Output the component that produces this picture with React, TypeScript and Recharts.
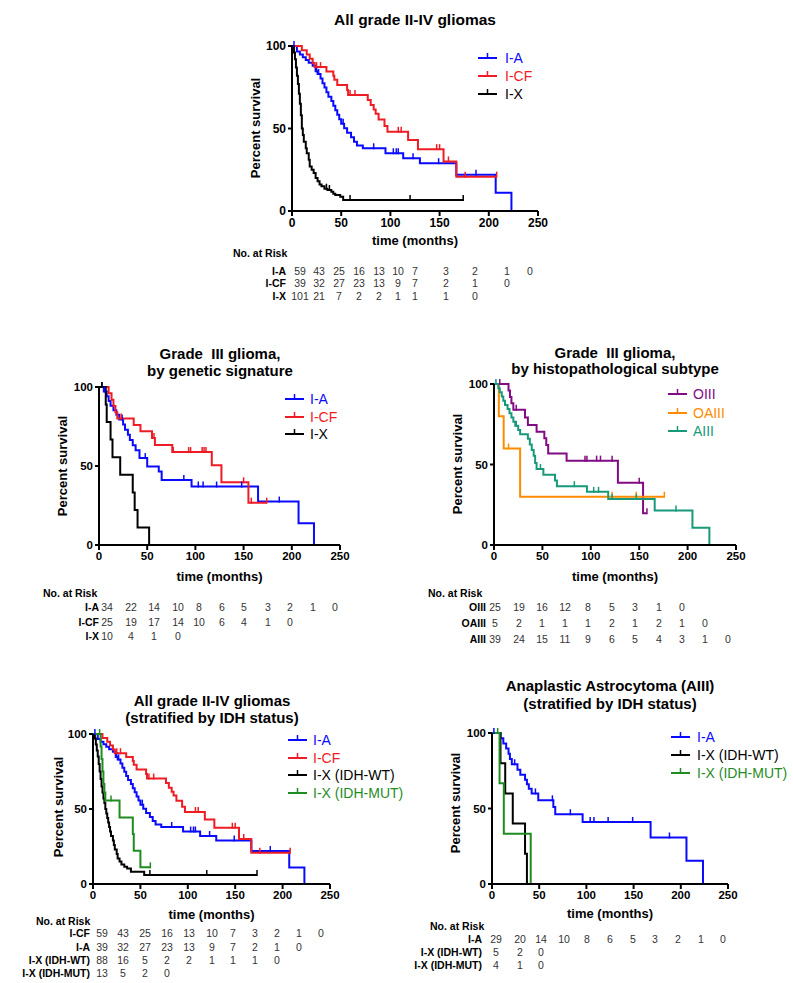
import React from 'react';
import { ComposedChart, Line, XAxis, YAxis } from 'recharts';

type Pt = [number, number];

const FONT = '"Liberation Sans", Arial, Helvetica, sans-serif';

// colours as in the figure
const BLUE = '#0a0aff';
const RED = '#ee1c24';
const BLACK = '#000000';
const GREEN = '#1f8c1f';
const TEAL = '#17997a';
const PURPLE = '#820a82';
const ORANGE = '#ff8c00';

// ---- All grade II-IV gliomas (time in months, percent survival after each drop)
const allA: Pt[] = [[0, 100], [5, 96.6], [8, 94.9], [11, 93.2], [14, 91.5], [17, 89.8], [21, 88.1], [24, 84.7], [26, 83], [29, 80.3], [31, 77.5], [33, 74.8], [35, 72], [37, 69.3], [40, 66.6], [42, 63.8], [44, 61.1], [46, 58.4], [48, 55.6], [50, 52.9], [53, 50.2], [56, 47.4], [60, 44.7], [63, 42], [66, 39.7], [72, 38], [95, 35], [113, 32], [130, 29], [167, 22], [207, 11], [223, 0]];
const allACens = [2, 25, 27, 52, 83, 103, 106, 108, 123, 149, 187];
const allCF: Pt[] = [[0, 100], [10, 97.4], [15, 94.9], [18, 92.3], [21, 89.7], [23, 87.2], [35, 84.6], [42, 82], [43, 79.5], [46, 76.4], [56, 73.3], [57, 70.3], [77, 67.3], [80, 64.2], [83, 61.5], [85, 59], [88, 55.5], [94, 51.5], [97, 48], [118, 43], [128, 37.5], [154, 30], [167, 20.8]];
const allCFCens = [25, 29, 59, 64, 108, 111, 147, 150, 159, 176, 208];
const allX: Pt[] = [[0, 100], [2, 96], [3, 92], [4, 87], [5, 82], [6, 77], [7, 71], [8, 65], [9, 58], [10, 50], [11, 46], [12, 42], [14, 38], [15, 35], [17, 31], [18, 27], [20, 25], [22, 23], [24, 20], [26, 18], [28, 16], [30, 15], [33, 13.5], [36, 12.7], [40, 11.7], [42, 10.5], [44, 9.7], [49, 8.7], [52, 6.7]];
const allXCens = [35, 38, 59, 120, 174];

// ---- Grade III glioma, by genetic signature
const g3A: Pt[] = [[0, 100], [5, 97.1], [8, 94.1], [10, 91.2], [12, 88.2], [15, 85.3], [18, 82.4], [21, 79.4], [25, 76.2], [27, 72.9], [30, 69.7], [32, 66.5], [35, 63.2], [38, 60], [42, 55], [50, 49.7], [62, 46.5], [65, 41.2], [96, 37], [165, 27.5], [207, 13.7], [223, 0]];
const g3ACens = [3, 6, 24, 48, 88, 103, 108, 122, 148, 187];
const g3CF: Pt[] = [[0, 100], [10, 96], [13, 92], [15, 88], [17, 84], [19, 80], [36, 76], [43, 72], [55, 67.8], [58, 63.3], [76, 58.8], [117, 50.5], [127, 39.7], [155, 26.8]];
const g3CFCens = [23, 57, 77, 93, 95, 107, 109, 111, 150, 158, 174];
const g3X: Pt[] = [[0, 100], [7, 88.9], [8, 77.8], [12, 66.7], [14, 55.6], [22, 44.4], [35, 33.3], [37, 22.2], [40, 11.1], [52, 0]];
const g3XCens = [3];

// ---- Grade III glioma, by histopathological subtype
const oIII: Pt[] = [[0, 100], [15, 96], [16.5, 92], [18, 88], [20, 84], [32, 79.2], [35, 74.5], [44, 70.4], [52, 66.3], [54, 62.1], [56, 56.9], [75, 52.4], [128, 38.7], [154, 19.7]];
const oIIICens = [6, 23, 94, 96, 106, 110, 122, 150, 158];
const oaIII: Pt[] = [[0, 100], [5, 80], [10, 60], [27, 30]];
const oaIIICens = [15, 122, 147, 176];
const aIII: Pt[] = [[0, 100], [4.5, 97.4], [6, 94.8], [8, 92.2], [9.6, 89.6], [11.4, 87], [14, 84.4], [16, 81.8], [18, 79.2], [20, 76.6], [22, 74], [25, 71.4], [27, 68.8], [35, 66], [37, 62.5], [39, 59], [41, 55.5], [42.5, 51], [44, 47.2], [51, 43.6], [63, 40], [65, 36.5], [96, 33], [118, 28.6], [166, 21.5], [205, 10.7], [222.5, 0]];
const aIIICens = [2, 23, 48, 83, 103, 108, 122, 147, 188];

// ---- All grade II-IV gliomas, stratified by IDH (I-A and I-CF curves as above)
const idhWT: Pt[] = [[0, 100], [2, 97], [3, 93], [4, 89], [5, 85], [6, 80], [7, 75], [8, 70], [9, 65], [10, 61], [11, 57], [12, 54], [13, 50], [14, 47], [15, 44], [16, 41], [17, 38], [18, 35], [19, 32], [21, 29], [22, 26], [23, 23], [25, 20], [26, 17], [28, 15], [30, 13], [33, 11.5], [36, 10.4], [40, 8.2], [54, 6]];
const idhWTCens = [60, 120, 173];
const idhMUT: Pt[] = [[0, 100], [8, 91.7], [9, 83.3], [10, 75], [11, 66.7], [12, 61], [13, 55.6], [28, 44.4], [42, 33.3], [43, 22.2], [50, 11.1]];
const idhMUTCens = [7, 19, 60.5];

// ---- Anaplastic astrocytoma, stratified by IDH
const aaA: Pt[] = [[0, 100], [9, 96.6], [12, 93.1], [15, 89.7], [17.5, 86.2], [19, 82.8], [21, 79.3], [27, 75.7], [30, 72.3], [35, 69], [37, 66], [39, 63], [42, 60], [49, 55.4], [65, 51], [67, 46.2], [96, 41.1], [168, 30.8], [206, 15.4], [223.5, 0]];
const aaACens = [2, 24, 46, 64, 83, 104, 108, 123, 149, 188];
const aaWT: Pt[] = [[0, 100], [9, 80], [14, 60], [22, 40], [35, 20], [37, 0]];
const aaWTCens: number[] = [];
const aaMUT: Pt[] = [[0, 100], [8, 66.7], [12.5, 33.3], [41, 0]];
const aaMUTCens = [6];

// ---- numbers at risk
const riskAllA = [59, 43, 25, 16, 13, 10, 7, 3, 2, 1, 0];
const riskAllCF = [39, 32, 27, 23, 13, 9, 7, 2, 1, 0];
const riskAllX = [101, 21, 7, 2, 2, 1, 1, 1, 0];
const riskG3A = [34, 22, 14, 10, 8, 6, 5, 3, 2, 1, 0];
const riskG3CF = [25, 19, 17, 14, 10, 6, 4, 1, 0];
const riskG3X = [10, 4, 1, 0];
const riskOIII = [25, 19, 16, 12, 8, 5, 3, 1, 0];
const riskOAIII = [5, 2, 1, 1, 1, 2, 1, 2, 1, 0];
const riskAIII = [39, 24, 15, 11, 9, 6, 5, 4, 3, 1, 0];
const riskIdhCF = [59, 43, 25, 16, 13, 10, 7, 3, 2, 1, 0];
const riskIdhA = [39, 32, 27, 23, 13, 9, 7, 2, 1, 0];
const riskIdhWT = [88, 16, 5, 2, 2, 1, 1, 1, 0];
const riskIdhMUT = [13, 5, 2, 0];
const riskAaA = [29, 20, 14, 10, 8, 6, 5, 3, 2, 1, 0];
const riskAaWT = [5, 2, 0];
const riskAaMUT = [4, 1, 0];

const X_TICKS = [0, 50, 100, 150, 200, 250];
const Y_TICKS = [0, 50, 100];

interface Series { name: string; color: string; steps: Pt[]; cens: number[] }
interface RiskRow { label: string; values: number[] }
interface Panel {
  title: string[];
  titleY: number[];
  titleSize: number;
  cx: number;
  plot: { x: number; y: number; w: number; h: number };
  series: Series[];
  legend: { lineX: number; textX: number; ys: number[] };
  yLabel: { x: number; y: number };
  xLabelY: number;
  tickFont: number;
  risk: { headX: number; headY: number; labelRight: number; rowsY: number[]; cols: number[]; rows: RiskRow[] };
}

function survAt(steps: Pt[], t: number) {
  let s = steps[0][1];
  for (const [tt, ss] of steps) if (tt <= t) s = ss;
  return s;
}

function buildRows(steps: Pt[], cens: number[]) {
  const rows = steps.map(([t, s]) => ({ t, s, c: false }));
  cens.forEach((t) => rows.push({ t, s: survAt(steps, t), c: true }));
  return rows.sort((a, b) => a.t - b.t || Number(a.c) - Number(b.c));
}

const censorDot = (color: string) => (props: any) => {
  const { cx, cy, payload, index } = props;
  if (!payload || !payload.c || cx == null || cy == null) return <g key={`d${index}`} />;
  return <line key={`d${index}`} x1={cx} x2={cx} y1={cy + 1} y2={cy - 5} stroke={color} strokeWidth={1.5} />;
};

const panels: Panel[] = [
  {
    title: ['All grade II-IV gliomas'], titleY: [20], titleSize: 15.5, cx: 415,
    plot: { x: 292, y: 46, w: 246, h: 165 },
    series: [
      { name: 'I-A', color: BLUE, steps: allA, cens: allACens },
      { name: 'I-CF', color: RED, steps: allCF, cens: allCFCens },
      { name: 'I-X', color: BLACK, steps: allX, cens: allXCens },
    ],
    legend: { lineX: 478, textX: 505, ys: [58, 76, 94] },
    yLabel: { x: 255, y: 128 }, xLabelY: 240, tickFont: 12,
    risk: {
      headX: 233, headY: 253, labelRight: 286, rowsY: [271, 283, 296],
      cols: [300, 319, 339, 359, 379, 398, 415, 446, 475, 507, 530],
      rows: [{ label: 'I-A', values: riskAllA }, { label: 'I-CF', values: riskAllCF }, { label: 'I-X', values: riskAllX }],
    },
  },
  {
    title: ['Grade  III glioma,', 'by genetic signature'], titleY: [353, 370], titleSize: 15, cx: 220,
    plot: { x: 99, y: 387, w: 241, h: 158 },
    series: [
      { name: 'I-A', color: BLUE, steps: g3A, cens: g3ACens },
      { name: 'I-CF', color: RED, steps: g3CF, cens: g3CFCens },
      { name: 'I-X', color: BLACK, steps: g3X, cens: g3XCens },
    ],
    legend: { lineX: 285, textX: 310, ys: [399, 416.5, 434] },
    yLabel: { x: 62, y: 466 }, xLabelY: 576, tickFont: 11.5,
    risk: {
      headX: 43, headY: 593, labelRight: 99, rowsY: [607, 622, 636],
      cols: [107, 131, 154, 178, 199, 222, 244, 268, 290, 313, 335],
      rows: [{ label: 'I-A', values: riskG3A }, { label: 'I-CF', values: riskG3CF }, { label: 'I-X', values: riskG3X }],
    },
  },
  {
    title: ['Grade  III glioma,', 'by histopathological subtype'], titleY: [352, 368], titleSize: 15, cx: 615,
    plot: { x: 494, y: 384, w: 242, h: 161 },
    series: [
      { name: 'OIII', color: PURPLE, steps: oIII, cens: oIIICens },
      { name: 'OAIII', color: ORANGE, steps: oaIII, cens: oaIIICens },
      { name: 'AIII', color: TEAL, steps: aIII, cens: aIIICens },
    ],
    legend: { lineX: 668, textX: 693, ys: [394, 413, 431] },
    yLabel: { x: 457, y: 464 }, xLabelY: 576, tickFont: 11.5,
    risk: {
      headX: 428, headY: 593, labelRight: 486, rowsY: [607, 623, 638.5],
      cols: [495, 519, 542, 565, 588, 612, 635, 659, 682, 705, 728],
      rows: [{ label: 'OIII', values: riskOIII }, { label: 'OAIII', values: riskOAIII }, { label: 'AIII', values: riskAIII }],
    },
  },
  {
    title: ['All grade II-IV gliomas', '(stratified by IDH status)'], titleY: [700, 717], titleSize: 15, cx: 212,
    plot: { x: 93, y: 734, w: 237, h: 150 },
    series: [
      { name: 'I-A', color: BLUE, steps: allA, cens: allACens },
      { name: 'I-CF', color: RED, steps: allCF, cens: allCFCens },
      { name: 'I-X (IDH-WT)', color: BLACK, steps: idhWT, cens: idhWTCens },
      { name: 'I-X (IDH-MUT)', color: GREEN, steps: idhMUT, cens: idhMUTCens },
    ],
    legend: { lineX: 288, textX: 313, ys: [740, 758, 775, 793] },
    yLabel: { x: 58, y: 807 }, xLabelY: 914, tickFont: 11.5,
    risk: {
      headX: 36, headY: 921, labelRight: 90, rowsY: [933, 947, 960, 973],
      cols: [102, 123, 145, 167, 189, 212, 233, 255, 277, 299, 321],
      rows: [
        { label: 'I-CF', values: riskIdhCF }, { label: 'I-A', values: riskIdhA },
        { label: 'I-X (IDH-WT)', values: riskIdhWT }, { label: 'I-X (IDH-MUT)', values: riskIdhMUT },
      ],
    },
  },
  {
    title: ['Anaplastic Astrocytoma (AIII)', '(stratified by IDH status)'], titleY: [685, 703], titleSize: 15, cx: 610,
    plot: { x: 492, y: 733, w: 236, h: 151 },
    series: [
      { name: 'I-A', color: BLUE, steps: aaA, cens: aaACens },
      { name: 'I-X (IDH-WT)', color: BLACK, steps: aaWT, cens: aaWTCens },
      { name: 'I-X (IDH-MUT)', color: GREEN, steps: aaMUT, cens: aaMUTCens },
    ],
    legend: { lineX: 671, textX: 697, ys: [737, 755, 773] },
    yLabel: { x: 455, y: 803 }, xLabelY: 913, tickFont: 11.5,
    risk: {
      headX: 430, headY: 926, labelRight: 482, rowsY: [939, 952, 965],
      cols: [496, 520, 541, 564, 587, 610, 633, 655, 678, 701, 723],
      rows: [{ label: 'I-A', values: riskAaA }, { label: 'I-X (IDH-WT)', values: riskAaWT }, { label: 'I-X (IDH-MUT)', values: riskAaMUT }],
    },
  },
];

const YW = 40;
const MT = 8;
const MR = 12;
const XH = 26;

const abs = (x: number, y: number, extra: React.CSSProperties = {}): React.CSSProperties => ({
  position: 'absolute', left: x, top: y, lineHeight: 1, whiteSpace: 'pre', ...extra,
});

const KMPanel: React.FC<{ p: Panel; idx: number }> = ({ p, idx }) => {
  const { plot } = p;
  const tick = { fill: '#000', fontSize: p.tickFont, fontWeight: 700, fontFamily: FONT };
  const axisStyle = { stroke: '#000', strokeWidth: 2 };
  return (
    <>
      {p.title.map((t, i) => (
        <div key={`t${i}`} style={abs(p.cx, p.titleY[i], { transform: 'translate(-50%,-50%)', fontSize: p.titleSize, fontWeight: 700 })}>{t}</div>
      ))}

      <div style={{ position: 'absolute', left: plot.x - YW, top: plot.y - MT }}>
        <ComposedChart width={YW + plot.w + MR} height={MT + plot.h + XH} margin={{ top: MT, right: MR, left: 0, bottom: 0 }}>
          <XAxis type="number" dataKey="t" domain={[0, 250]} ticks={X_TICKS} interval={0} height={XH}
            axisLine={axisStyle} tickLine={axisStyle} tickSize={5} tickMargin={2} tick={tick} />
          <YAxis type="number" domain={[0, 100]} ticks={Y_TICKS} interval={0} width={YW}
            axisLine={axisStyle} tickLine={axisStyle} tickSize={4} tickMargin={2} tick={tick} />
          {p.series.map((s) => (
            <Line key={`${idx}-${s.name}`} name={s.name} data={buildRows(s.steps, s.cens)} dataKey="s" type="stepAfter"
              stroke={s.color} strokeWidth={2} dot={censorDot(s.color)} activeDot={false} isAnimationActive={false} />
          ))}
        </ComposedChart>
      </div>

      <div style={abs(p.yLabel.x, p.yLabel.y, { transform: 'translate(-50%,-50%) rotate(-90deg)', fontSize: 13, fontWeight: 700 })}>Percent survival</div>
      <div style={abs(plot.x + plot.w / 2, p.xLabelY, { transform: 'translate(-50%,-50%)', fontSize: 13, fontWeight: 700 })}>time (months)</div>

      {/* legend */}
      {p.series.map((s, i) => (
        <React.Fragment key={`l${i}`}>
          <svg style={{ position: 'absolute', left: p.legend.lineX, top: p.legend.ys[i] - 7 }} width={20} height={10}>
            <line x1={0} x2={19} y1={7} y2={7} stroke={s.color} strokeWidth={2} />
            <line x1={9.5} x2={9.5} y1={7} y2={2} stroke={s.color} strokeWidth={1.5} />
          </svg>
          <div style={abs(p.legend.textX, p.legend.ys[i], { transform: 'translateY(-50%)', fontSize: 14, color: s.color })}>{s.name}</div>
        </React.Fragment>
      ))}

      {/* numbers at risk */}
      <div style={abs(p.risk.headX, p.risk.headY, { transform: 'translateY(-50%)', fontSize: 10.5, fontWeight: 700 })}>No. at Risk</div>
      {p.risk.rows.map((r, i) => (
        <React.Fragment key={`r${i}`}>
          <div style={abs(p.risk.labelRight, p.risk.rowsY[i], { transform: 'translate(-100%,-50%)', fontSize: 10.5, fontWeight: 700 })}>{r.label}</div>
          {r.values.map((v, j) => (
            <div key={j} style={abs(p.risk.cols[j], p.risk.rowsY[i], { transform: 'translate(-50%,-50%)', fontSize: 10.5, color: '#333' })}>{v}</div>
          ))}
        </React.Fragment>
      ))}
    </>
  );
};

export default function App() {
  return (
    <div style={{ position: 'absolute', left: 0, top: 0, width: 793, height: 983, background: '#fff', fontFamily: FONT, color: '#000', overflow: 'hidden' }}>
      {panels.map((p, i) => <KMPanel key={i} p={p} idx={i} />)}
    </div>
  );
}
